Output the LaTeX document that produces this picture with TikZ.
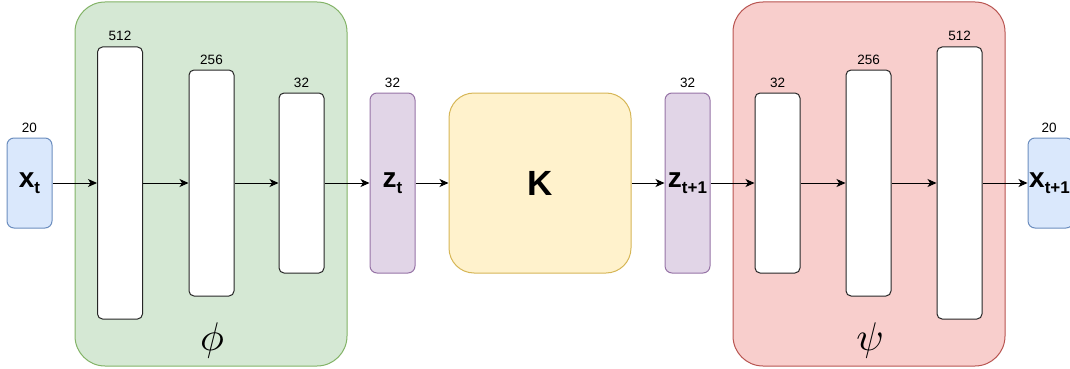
\documentclass[tikz,border=0pt]{standalone}
\usepackage{fontspec}
\setmainfont{Liberation Sans}
\usetikzlibrary{arrows.meta}

\definecolor{grnfill}{HTML}{D5E8D4}
\definecolor{grnline}{HTML}{82B366}
\definecolor{redfill}{HTML}{F8CECC}
\definecolor{redline}{HTML}{B85450}
\definecolor{bluefill}{HTML}{DAE8FC}
\definecolor{blueline}{HTML}{6C8EBF}
\definecolor{purfill}{HTML}{E1D5E7}
\definecolor{purline}{HTML}{9673A6}
\definecolor{yelfill}{HTML}{FFF2CC}
\definecolor{yelline}{HTML}{D6B656}

\tikzset{
  group/.style={draw, line width=1pt, rounded corners=30pt, inner sep=0pt},
  layer/.style={draw=black!85, fill=white, line width=1pt, rounded corners=5pt,
    minimum width=45pt, inner sep=0pt},
  iobox/.style={draw=blueline, fill=bluefill, line width=1pt, rounded corners=7pt,
    minimum width=45pt, minimum height=90pt, inner sep=0pt},
  latent/.style={draw=purline, fill=purfill, line width=1pt, rounded corners=7pt,
    minimum width=45pt, minimum height=180pt, inner sep=0pt},
  dimlabel/.style={font=\fontsize{13.5}{14}\selectfont, inner sep=0pt, anchor=base},
  flow/.style={-{Stealth[length=9pt,width=8pt,inset=2.5pt]}, line width=1pt},
  greek/.style={inner sep=0pt, anchor=base}
}

\newcommand{\vecsym}[1]{{\fontsize{28}{28}\selectfont\bfseries x\raisebox{-0.22em}{\fontsize{17}{17}\selectfont #1}}}
\newcommand{\latsym}[1]{{\fontsize{28}{28}\selectfont\bfseries z\raisebox{-0.22em}{\fontsize{17}{17}\selectfont #1}}}
\newcommand{\bigmath}[1]{\scalebox{4}{$#1$}}

\begin{document}
\begin{tikzpicture}[x=1pt,y=-1pt]
  \useasboundingbox (0,0) rectangle (1070,369);

  % encoder and decoder groups
  \draw[group, draw=grnline, fill=grnfill] (75,2) rectangle (347,366);
  \draw[group, draw=redline, fill=redfill] (733,2) rectangle (1005,366);

  % input
  \node[iobox] (xt) at (29.5,183) {\vecsym{t}};
  \node[dimlabel] (lxt) at (29.5,132) {20};

  % encoder layers
  \node[layer, minimum height=272pt] (e1) at (120,183) {};
  \node[layer, minimum height=226pt] (e2) at (211.5,183) {};
  \node[layer, minimum height=180pt] (e3) at (301.5,183) {};
  \node[dimlabel] (le1) at (120,41) {512};
  \node[dimlabel] (le2) at (211.5,64) {256};
  \node[dimlabel] (le3) at (301.5,87) {32};
  \node[greek] (phi) at (212,350) {\bigmath{\phi}};

  % latent states and Koopman operator
  \node[latent] (zt) at (392.5,183) {\latsym{t}};
  \node[dimlabel] (lzt) at (392.5,87) {32};
  \node[draw=yelline, fill=yelfill, line width=1pt, rounded corners=25pt,
        minimum width=182pt, minimum height=180pt, inner sep=0pt,
        font=\fontsize{35}{35}\selectfont\bfseries] (K) at (540,183) {K};
  \node[latent] (zt1) at (687.5,183) {\latsym{t+1}};
  \node[dimlabel] (lzt1) at (687.5,87) {32};

  % decoder layers
  \node[layer, minimum height=180pt] (d1) at (777.5,183) {};
  \node[layer, minimum height=226pt] (d2) at (868.5,183) {};
  \node[layer, minimum height=272pt] (d3) at (959.5,183) {};
  \node[dimlabel] (ld1) at (777.5,87) {32};
  \node[dimlabel] (ld2) at (868.5,64) {256};
  \node[dimlabel] (ld3) at (959.5,41) {512};
  \node[greek] (psi) at (870,350) {\bigmath{\psi}};

  % output
  \node[iobox] (xt1) at (1050.5,183) {};
  \node[anchor=west, inner sep=0pt] (xt1t) at (1029,183) {\vecsym{t+1}};
  \node[dimlabel] (lxt1) at (1049,132) {20};

  % data flow
  \draw[flow] (xt) -- (e1);
  \draw[flow] (e1) -- (e2);
  \draw[flow] (e2) -- (e3);
  \draw[flow] (e3) -- (zt);
  \draw[flow] (zt) -- (K);
  \draw[flow] (K) -- (zt1);
  \draw[flow] (zt1) -- (d1);
  \draw[flow] (d1) -- (d2);
  \draw[flow] (d2) -- (d3);
  \draw[flow] (d3) -- (xt1);
\end{tikzpicture}
\end{document}
